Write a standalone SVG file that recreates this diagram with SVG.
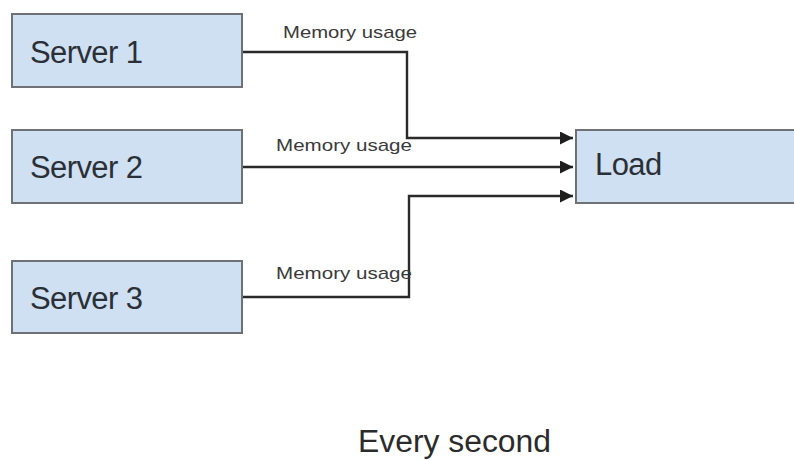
<svg xmlns="http://www.w3.org/2000/svg" width="794" height="460" viewBox="0 0 794 460">
  <style>
    .box { fill: #cfe0f3; stroke: #6e7276; stroke-width: 2; }
    .name { font-family: "Liberation Sans", Arial, sans-serif; font-size: 31px; letter-spacing: -0.6px; fill: #2b2f36; }
    .wire { fill: none; stroke: #2a2a2a; stroke-width: 2.4; }
    .label { font-family: "Liberation Sans", Arial, sans-serif; font-size: 17px; fill: #3a3a3a; }
    .caption { font-family: "Liberation Sans", Arial, sans-serif; font-size: 31px; fill: #2b2b2b; }
  </style>
  <defs>
    <marker id="arrow" markerUnits="userSpaceOnUse" markerWidth="14" markerHeight="13" refX="13" refY="6.5" orient="auto">
      <path d="M0,0 L13,6.5 L0,13 Z" fill="#1e1e1e"/>
    </marker>
  </defs>

  <rect width="794" height="460" fill="#ffffff"/>

  <!-- connectors: memory usage reported to the load node -->
  <g id="connectors">
    <path class="wire" d="M242,52 H407 V138 H573" marker-end="url(#arrow)"/>
    <path class="wire" d="M242,167 H573" marker-end="url(#arrow)"/>
    <path class="wire" d="M242,297 H409 V196 H573" marker-end="url(#arrow)"/>
    <text class="label" x="283" y="38" textLength="134" lengthAdjust="spacingAndGlyphs">Memory usage</text>
    <text class="label" x="276" y="151" textLength="136" lengthAdjust="spacingAndGlyphs">Memory usage</text>
    <text class="label" x="276" y="279" textLength="136" lengthAdjust="spacingAndGlyphs">Memory usage</text>
  </g>

  <g id="server1">
    <rect class="box" x="12" y="14" width="230" height="73"/>
    <text class="name" x="30" y="63">Server 1</text>
  </g>
  <g id="server2">
    <rect class="box" x="12" y="130" width="230" height="73"/>
    <text class="name" x="30" y="178">Server 2</text>
  </g>
  <g id="server3">
    <rect class="box" x="12" y="261" width="230" height="72"/>
    <text class="name" x="30" y="309">Server 3</text>
  </g>
  <g id="load">
    <rect class="box" x="576" y="130" width="220" height="73"/>
    <text class="name" x="595" y="175">Load</text>
  </g>

  <text class="caption" x="358" y="452" textLength="193" lengthAdjust="spacingAndGlyphs">Every second</text>
</svg>
